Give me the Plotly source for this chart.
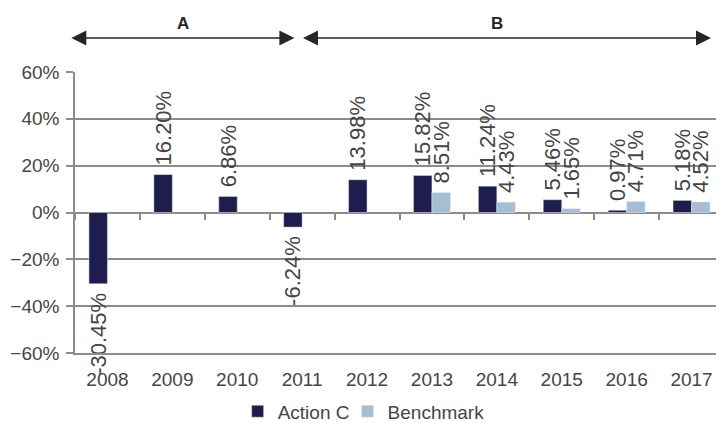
import plotly.graph_objects as go

years = ["2008", "2009", "2010", "2011", "2012", "2013", "2014", "2015", "2016", "2017"]
action_c = [-30.45, 16.20, 6.86, -6.24, 13.98, 15.82, 11.24, 5.46, 0.97, 5.18]
benchmark = [None, None, None, None, None, 8.51, 4.43, 1.65, 4.71, 4.52]

periods = ["A", "B"]
period_start = [-0.58, 2.99]   # in category-index units
period_end = [2.88, 9.30]
period_label_x = [1.17, 6.0]

NAVY = "#1f1d4e"
LIGHT = "#a6bdd3"
GRID = "#8c8c8c"
TXT = "#454545"
DARK = "#262626"
FONT = "Liberation Sans, Arial, sans-serif"

def fmt(v):
    if v is None:
        return None
    return f" {v:.2f}%" if v >= 0 else f"{v:.2f}% "

fig = go.Figure()
fig.add_trace(go.Bar(
    x=years, y=action_c, name="Action C", marker=dict(color=NAVY),
    text=[fmt(v) for v in action_c], textposition="outside", textangle=-90,
    textfont=dict(size=22, color=TXT, family=FONT), cliponaxis=False,
    constraintext="none", legend="legend",
))
fig.add_trace(go.Bar(
    x=years, y=benchmark, name="Benchmark", marker=dict(color=LIGHT),
    text=[fmt(v) for v in benchmark], textposition="outside", textangle=-90,
    textfont=dict(size=22, color=TXT, family=FONT), cliponaxis=False,
    constraintext="none", legend="legend2",
))
# carrier for the tick marks along the 0% line
fig.add_trace(go.Scatter(x=[0], y=[0], xaxis="x2", mode="markers",
                         marker=dict(opacity=0), showlegend=False, hoverinfo="skip"))

for lab, s, e, lx in zip(periods, period_start, period_end, period_label_x):
    fig.add_annotation(x=e, y=1.121, xref="x", yref="paper",
                       ax=s, ay=0, axref="x", ayref="pixel",
                       text="", showarrow=True,
                       arrowhead=2, startarrowhead=2, arrowside="end+start",
                       arrowwidth=1.5, arrowsize=2, startarrowsize=2,
                       arrowcolor=DARK, standoff=0, startstandoff=0)
    fig.add_annotation(x=lx, y=1.174, xref="x", yref="paper", yanchor="middle",
                       text=f"<b>{lab}</b>", showarrow=False,
                       font=dict(size=17, color=DARK, family=FONT))

legend_common = dict(orientation="h", xanchor="left", yref="container", y=0.028,
                     yanchor="middle", font=dict(size=19, color=TXT, family=FONT),
                     bgcolor="rgba(0,0,0,0)")

fig.update_layout(
    width=716, height=415,
    margin=dict(l=67, r=0, t=64, b=70),
    paper_bgcolor="white", plot_bgcolor="white",
    barmode="group", bargap=0.43, bargroupgap=0,
    font=dict(family=FONT, color=TXT, size=19),
    showlegend=True,
    legend=dict(x=0.2506, **legend_common),
    legend2=dict(x=0.420, **legend_common),
    xaxis=dict(type="category", range=[-0.5, 9.5], showgrid=False, ticks="",
               showline=True, linecolor=GRID, linewidth=1.5, automargin=False,
               tickfont=dict(size=19, color=TXT), ticklabelstandoff=8),
    xaxis2=dict(overlaying="x", anchor="free", position=0.5, range=[-0.5, 9.5],
                showgrid=False, showline=False, zeroline=False, showticklabels=False,
                ticks="outside", ticklen=6, tickwidth=1.5, tickcolor=GRID,
                automargin=False, tickvals=[i + 0.5 for i in range(-1, 10)]),
    yaxis=dict(range=[-60, 60], dtick=20, ticksuffix="%", showgrid=True,
               gridcolor=GRID, gridwidth=1.5, zeroline=True, zerolinecolor=GRID,
               zerolinewidth=1.5, showline=True, linecolor=GRID, linewidth=1.5,
               ticks="outside", ticklen=7, tickwidth=1.5, tickcolor=GRID,
               automargin=False,
               tickfont=dict(size=19, color=TXT), ticklabelstandoff=3),
)

fig.write_html("out.html")
